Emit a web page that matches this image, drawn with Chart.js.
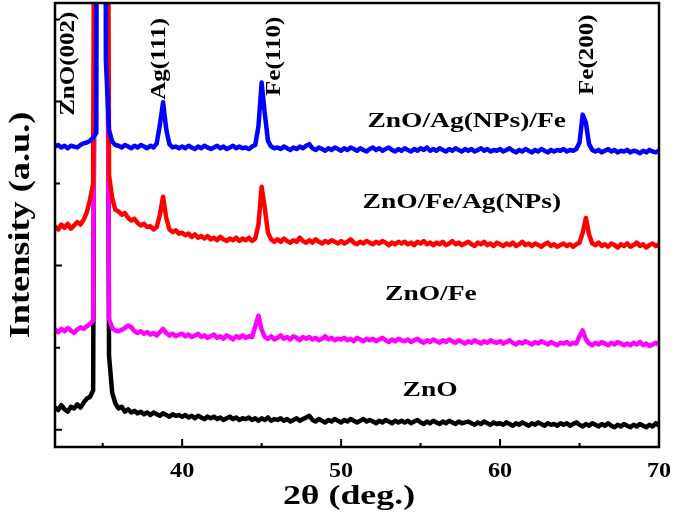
<!DOCTYPE html>
<html>
<head>
<meta charset="utf-8">
<script src="https://cdn.jsdelivr.net/npm/chart.js@4.4.0/dist/chart.umd.min.js"></script>
<style>
  html, body { margin: 0; padding: 0; background: #fff; }
  canvas { display: block; }
</style>
</head>
<body>
<canvas id="xrd" width="675" height="519"></canvas>
<script>
// ============================================================
// XRD PATTERNS — ZnO / Fe / Ag(NPs) stacks
// ============================================================

// 2θ sampling (deg.)
const twoTheta = [
  32.0, 32.2, 32.4, 32.6, 32.8, 33.0, 33.2, 33.4, 33.6, 33.8,
  34.0, 34.2, 34.4, 34.6, 34.8, 35.0, 35.2, 35.4, 35.6, 35.8,
  36.0, 36.2, 36.4, 36.6, 36.8, 37.0, 37.2, 37.4, 37.6, 37.8,
  38.0, 38.2, 38.4, 38.6, 38.8, 39.0, 39.2, 39.4, 39.6, 39.8,
  40.0, 40.2, 40.4, 40.6, 40.8, 41.0, 41.2, 41.4, 41.6, 41.8,
  42.0, 42.2, 42.4, 42.6, 42.8, 43.0, 43.2, 43.4, 43.6, 43.8,
  44.0, 44.2, 44.4, 44.6, 44.8, 45.0, 45.2, 45.4, 45.6, 45.8,
  46.0, 46.2, 46.4, 46.6, 46.8, 47.0, 47.2, 47.4, 47.6, 47.8,
  48.0, 48.2, 48.4, 48.6, 48.8, 49.0, 49.2, 49.4, 49.6, 49.8,
  50.0, 50.2, 50.4, 50.6, 50.8, 51.0, 51.2, 51.4, 51.6, 51.8,
  52.0, 52.2, 52.4, 52.6, 52.8, 53.0, 53.2, 53.4, 53.6, 53.8,
  54.0, 54.2, 54.4, 54.6, 54.8, 55.0, 55.2, 55.4, 55.6, 55.8,
  56.0, 56.2, 56.4, 56.6, 56.8, 57.0, 57.2, 57.4, 57.6, 57.8,
  58.0, 58.2, 58.4, 58.6, 58.8, 59.0, 59.2, 59.4, 59.6, 59.8,
  60.0, 60.2, 60.4, 60.6, 60.8, 61.0, 61.2, 61.4, 61.6, 61.8,
  62.0, 62.2, 62.4, 62.6, 62.8, 63.0, 63.2, 63.4, 63.6, 63.8,
  64.0, 64.2, 64.4, 64.6, 64.8, 65.0, 65.2, 65.4, 65.6, 65.8,
  66.0, 66.2, 66.4, 66.6, 66.8, 67.0, 67.2, 67.4, 67.6, 67.8,
  68.0, 68.2, 68.4, 68.6, 68.8, 69.0, 69.2, 69.4, 69.6, 69.8,
  70.0
];

// Intensity (a.u.), stacked with offsets as in the figure
const znoAgFe = [
  345, 347, 344, 346, 343, 346, 345, 344, 347, 349,
  350, 352, 356, 362, 3000, 3000, 450, 365, 351, 347,
  346, 344, 347, 345, 343, 346, 344, 347, 345, 343,
  346, 344, 349, 372, 399, 366, 348, 344, 345, 343,
  345, 343, 346, 344, 342, 345, 343, 346, 344, 342,
  344, 346, 343, 345, 342, 344, 346, 343, 345, 343,
  344, 342, 345, 347, 370, 423, 385, 352, 345, 343,
  344, 342, 345, 343, 341, 344, 342, 345, 343, 346,
  348, 343, 341, 344, 342, 340, 343, 341, 344, 342,
  340, 343, 341, 344, 342, 340, 343, 341, 339, 342,
  344, 341, 343, 340, 342, 344, 341, 339, 342, 340,
  343, 341, 339, 342, 340, 343, 341, 344, 340, 342,
  340, 343, 341, 339, 342, 340, 343, 341, 339, 342,
  340, 342, 339, 341, 343, 340, 342, 339, 341, 340,
  342, 339, 341, 343, 340, 338, 341, 339, 342, 340,
  338, 341, 339, 342, 340, 338, 341, 339, 341, 340,
  342, 339, 341, 340, 342, 350, 384, 374, 348, 341,
  339, 341, 338, 340, 342, 339, 341, 338, 340, 339,
  341, 338, 340, 339, 337, 340, 338, 341, 339, 338,
  340
];

const znoFeAg = [
  248, 244, 250, 246, 251, 245, 249, 253, 250, 256,
  265, 280, 300, 1500, 3000, 3000, 1500, 310, 282, 268,
  266, 262, 264, 258, 255, 257, 252, 249, 251, 247,
  248, 244, 247, 262, 284, 258, 244, 241, 243, 239,
  240, 237, 239, 235, 238, 234, 236, 233, 236, 232,
  234, 231, 235, 232, 230, 233, 231, 234, 230, 233,
  231, 234, 230, 233, 250, 296, 270, 240, 232, 229,
  232, 229, 233, 230, 228, 231, 229, 234, 230, 228,
  231, 228, 232, 229, 227, 230, 228, 231, 229, 227,
  230, 227, 229, 232, 228, 226, 229, 227, 230, 228,
  226, 229, 227, 230, 228, 225, 228, 226, 229, 227,
  229, 226, 228, 225, 229, 227, 230, 226, 228, 225,
  228, 226, 229, 225, 227, 230, 226, 228, 225, 227,
  229, 226, 224, 228, 226, 229, 225, 227, 224, 228,
  226, 224, 227, 225, 228, 224, 226, 229, 225, 227,
  224, 227, 225, 223, 226, 228, 224, 226, 223, 225,
  227, 224, 226, 223, 226, 228, 240, 258, 238, 227,
  225, 228, 224, 226, 223, 227, 225, 222, 226, 224,
  227, 223, 225, 228, 224, 226, 222, 225, 227, 224,
  226
];

const znoFe = [
  122, 119, 123, 120, 124, 121, 118, 122, 125, 123,
  126, 129, 133, 1000, 3000, 3000, 900, 135, 124, 121,
  120, 122, 124, 127, 125, 120, 118, 120, 117, 119,
  116, 118, 115, 119, 123, 118, 115, 117, 114, 116,
  117, 114, 116, 113, 115, 117, 113, 115, 112, 114,
  116, 112, 114, 111, 115, 113, 110, 114, 112, 115,
  112, 114, 113, 126, 139, 122, 113, 111, 114, 110,
  112, 115, 111, 113, 110, 114, 112, 109, 113, 111,
  113, 110, 112, 109, 111, 114, 110, 112, 109, 111,
  110, 112, 109, 111, 108, 112, 110, 108, 111, 109,
  111, 108, 110, 112, 109, 107, 110, 108, 111, 109,
  108, 110, 107, 109, 111, 108, 106, 109, 107, 110,
  108, 106, 109, 107, 110, 108, 106, 109, 107, 105,
  108, 106, 109, 107, 105, 108, 106, 109, 107, 106,
  108, 105, 107, 109, 106, 104, 107, 105, 108, 106,
  104, 107, 105, 108, 106, 104, 107, 105, 103, 106,
  105, 107, 104, 106, 105, 114, 121, 110, 105, 103,
  106, 104, 107, 105, 103, 106, 104, 107, 105, 103,
  105, 103, 106, 104, 107, 103, 105, 102, 104, 106,
  104
];

const zno = [
  27, 24, 30, 25, 22, 28, 26, 31, 27, 33,
  38, 40, 48, 1200, 3000, 3000, 1200, 90, 45, 32,
  26, 28, 22, 25, 21, 23, 20, 22, 19, 21,
  18, 21, 19, 17, 20, 18, 16, 19, 17, 18,
  16, 18, 15, 17, 14, 17, 15, 13, 16, 14,
  16, 13, 15, 12, 14, 16, 13, 15, 12, 14,
  13, 15, 12, 14, 11, 14, 12, 15, 11, 13,
  12, 14, 11, 13, 10, 12, 14, 11, 13, 15,
  17, 12, 10, 13, 11, 9, 12, 10, 13, 11,
  9, 12, 10, 13, 11, 9, 11, 13, 10, 12,
  10, 8, 11, 9, 12, 10, 8, 11, 9, 11,
  9, 11, 8, 10, 12, 9, 7, 10, 8, 11,
  9, 7, 10, 8, 11, 9, 7, 10, 8, 9,
  10, 8, 6, 9, 7, 10, 8, 6, 9, 7,
  8, 6, 9, 7, 5, 8, 6, 9, 7, 5,
  8, 6, 9, 7, 5, 8, 6, 7, 5, 8,
  6, 8, 5, 7, 9, 6, 4, 7, 5, 8,
  6, 4, 7, 5, 8, 5, 3, 6, 4, 7,
  5, 3, 6, 4, 7, 5, 3, 6, 4, 8,
  5
];

// Axis ticks
const xMajorTicks = [40, 50, 60, 70];
const xMinorTicks = [35, 45, 55, 65];
const yMajorTicks = [0, 200, 400];
const yMinorTicks = [100, 300, 500];

// Texts
const xTitle = '2\u03B8 (deg.)';
const yTitle = 'Intensity (a.u.)';
const seriesNames = ['ZnO/Ag(NPs)/Fe', 'ZnO/Fe/Ag(NPs)', 'ZnO/Fe', 'ZnO'];
const seriesNameAt = [[57.9, 376], [57.6, 277], [55.65, 165], [55.6, 48]];
const peakNames = ['ZnO(002)', 'Ag(111)', 'Fe(110)', 'Fe(200)'];
const peakNameAt = [[32.9, 446], [38.57, 452], [45.84, 455], [65.53, 457]];

const SERIF = "'Liberation Serif', 'Times New Roman', serif";

function drawText(ctx, text, x, y, size, rot, sx = 1.25) {
  ctx.save();
  ctx.translate(x, y);
  if (rot) ctx.rotate(rot);
  ctx.scale(sx, 1);
  ctx.font = `bold ${size}px ${SERIF}`;
  ctx.fillStyle = '#000';
  ctx.textAlign = 'center';
  ctx.textBaseline = 'middle';
  ctx.fillText(text, 0, 0);
  ctx.restore();
}

// Frame, inward ticks and all labels
const xrdFrame = {
  id: 'xrdFrame',
  afterDatasetsDraw(chart) {
    const { ctx, chartArea: a, scales: { x, y } } = chart;
    ctx.save();
    ctx.strokeStyle = '#000';
    ctx.lineWidth = 2.5;
    ctx.strokeRect(a.left, a.top, a.right - a.left, a.bottom - a.top);

    ctx.lineWidth = 2;
    ctx.beginPath();
    xMajorTicks.forEach(v => { const p = x.getPixelForValue(v); ctx.moveTo(p, a.bottom); ctx.lineTo(p, a.bottom - 8); });
    xMinorTicks.forEach(v => { const p = x.getPixelForValue(v); ctx.moveTo(p, a.bottom); ctx.lineTo(p, a.bottom - 4); });
    yMajorTicks.forEach(v => { const p = y.getPixelForValue(v); ctx.moveTo(a.left, p); ctx.lineTo(a.left + 7, p); });
    yMinorTicks.forEach(v => { const p = y.getPixelForValue(v); ctx.moveTo(a.left, p); ctx.lineTo(a.left + 5, p); });
    ctx.stroke();

    xMajorTicks.forEach(v => drawText(ctx, String(v), x.getPixelForValue(v), a.bottom + 24, 22, 0, 1.1));
    drawText(ctx, xTitle, (a.left + a.right) / 2 - 8, a.bottom + 50, 28, 0, 1.28);
    drawText(ctx, yTitle, 22, (a.top + a.bottom) / 2, 29, -Math.PI / 2);

    seriesNames.forEach((t, i) => {
      drawText(ctx, t, x.getPixelForValue(seriesNameAt[i][0]), y.getPixelForValue(seriesNameAt[i][1]), 22, 0);
    });
    peakNames.forEach((t, i) => {
      drawText(ctx, t, x.getPixelForValue(peakNameAt[i][0]), y.getPixelForValue(peakNameAt[i][1]), 20, -Math.PI / 2);
    });
    ctx.restore();
  }
};

const toPoints = vals => twoTheta.map((t, i) => ({ x: t, y: vals[i] }));

const series = [
  { label: 'ZnO/Ag(NPs)/Fe', data: znoAgFe, color: '#0000FF' },
  { label: 'ZnO/Fe/Ag(NPs)', data: znoFeAg, color: '#FF0000' },
  { label: 'ZnO/Fe', data: znoFe, color: '#FF00FF' },
  { label: 'ZnO', data: zno, color: '#000000' },
];

new Chart(document.getElementById('xrd').getContext('2d'), {
  type: 'line',
  data: {
    datasets: series.map(s => ({
      label: s.label,
      data: toPoints(s.data),
      borderColor: s.color,
      backgroundColor: s.color,
      borderWidth: 4.5,
      borderJoinStyle: 'round',
      pointRadius: 0,
      tension: 0,
      fill: false,
    }))
  },
  options: {
    responsive: false,
    devicePixelRatio: 1,
    animation: false,
    layout: { padding: { left: 55, right: 16, top: 3, bottom: 72 } },
    scales: {
      x: { type: 'linear', display: false, min: 32, max: 70 },
      y: { type: 'linear', display: false, min: -21, max: 520 },
    },
    plugins: {
      legend: { display: false },
      tooltip: { enabled: false },
    },
  },
  plugins: [xrdFrame]
});
</script>
</body>
</html>
